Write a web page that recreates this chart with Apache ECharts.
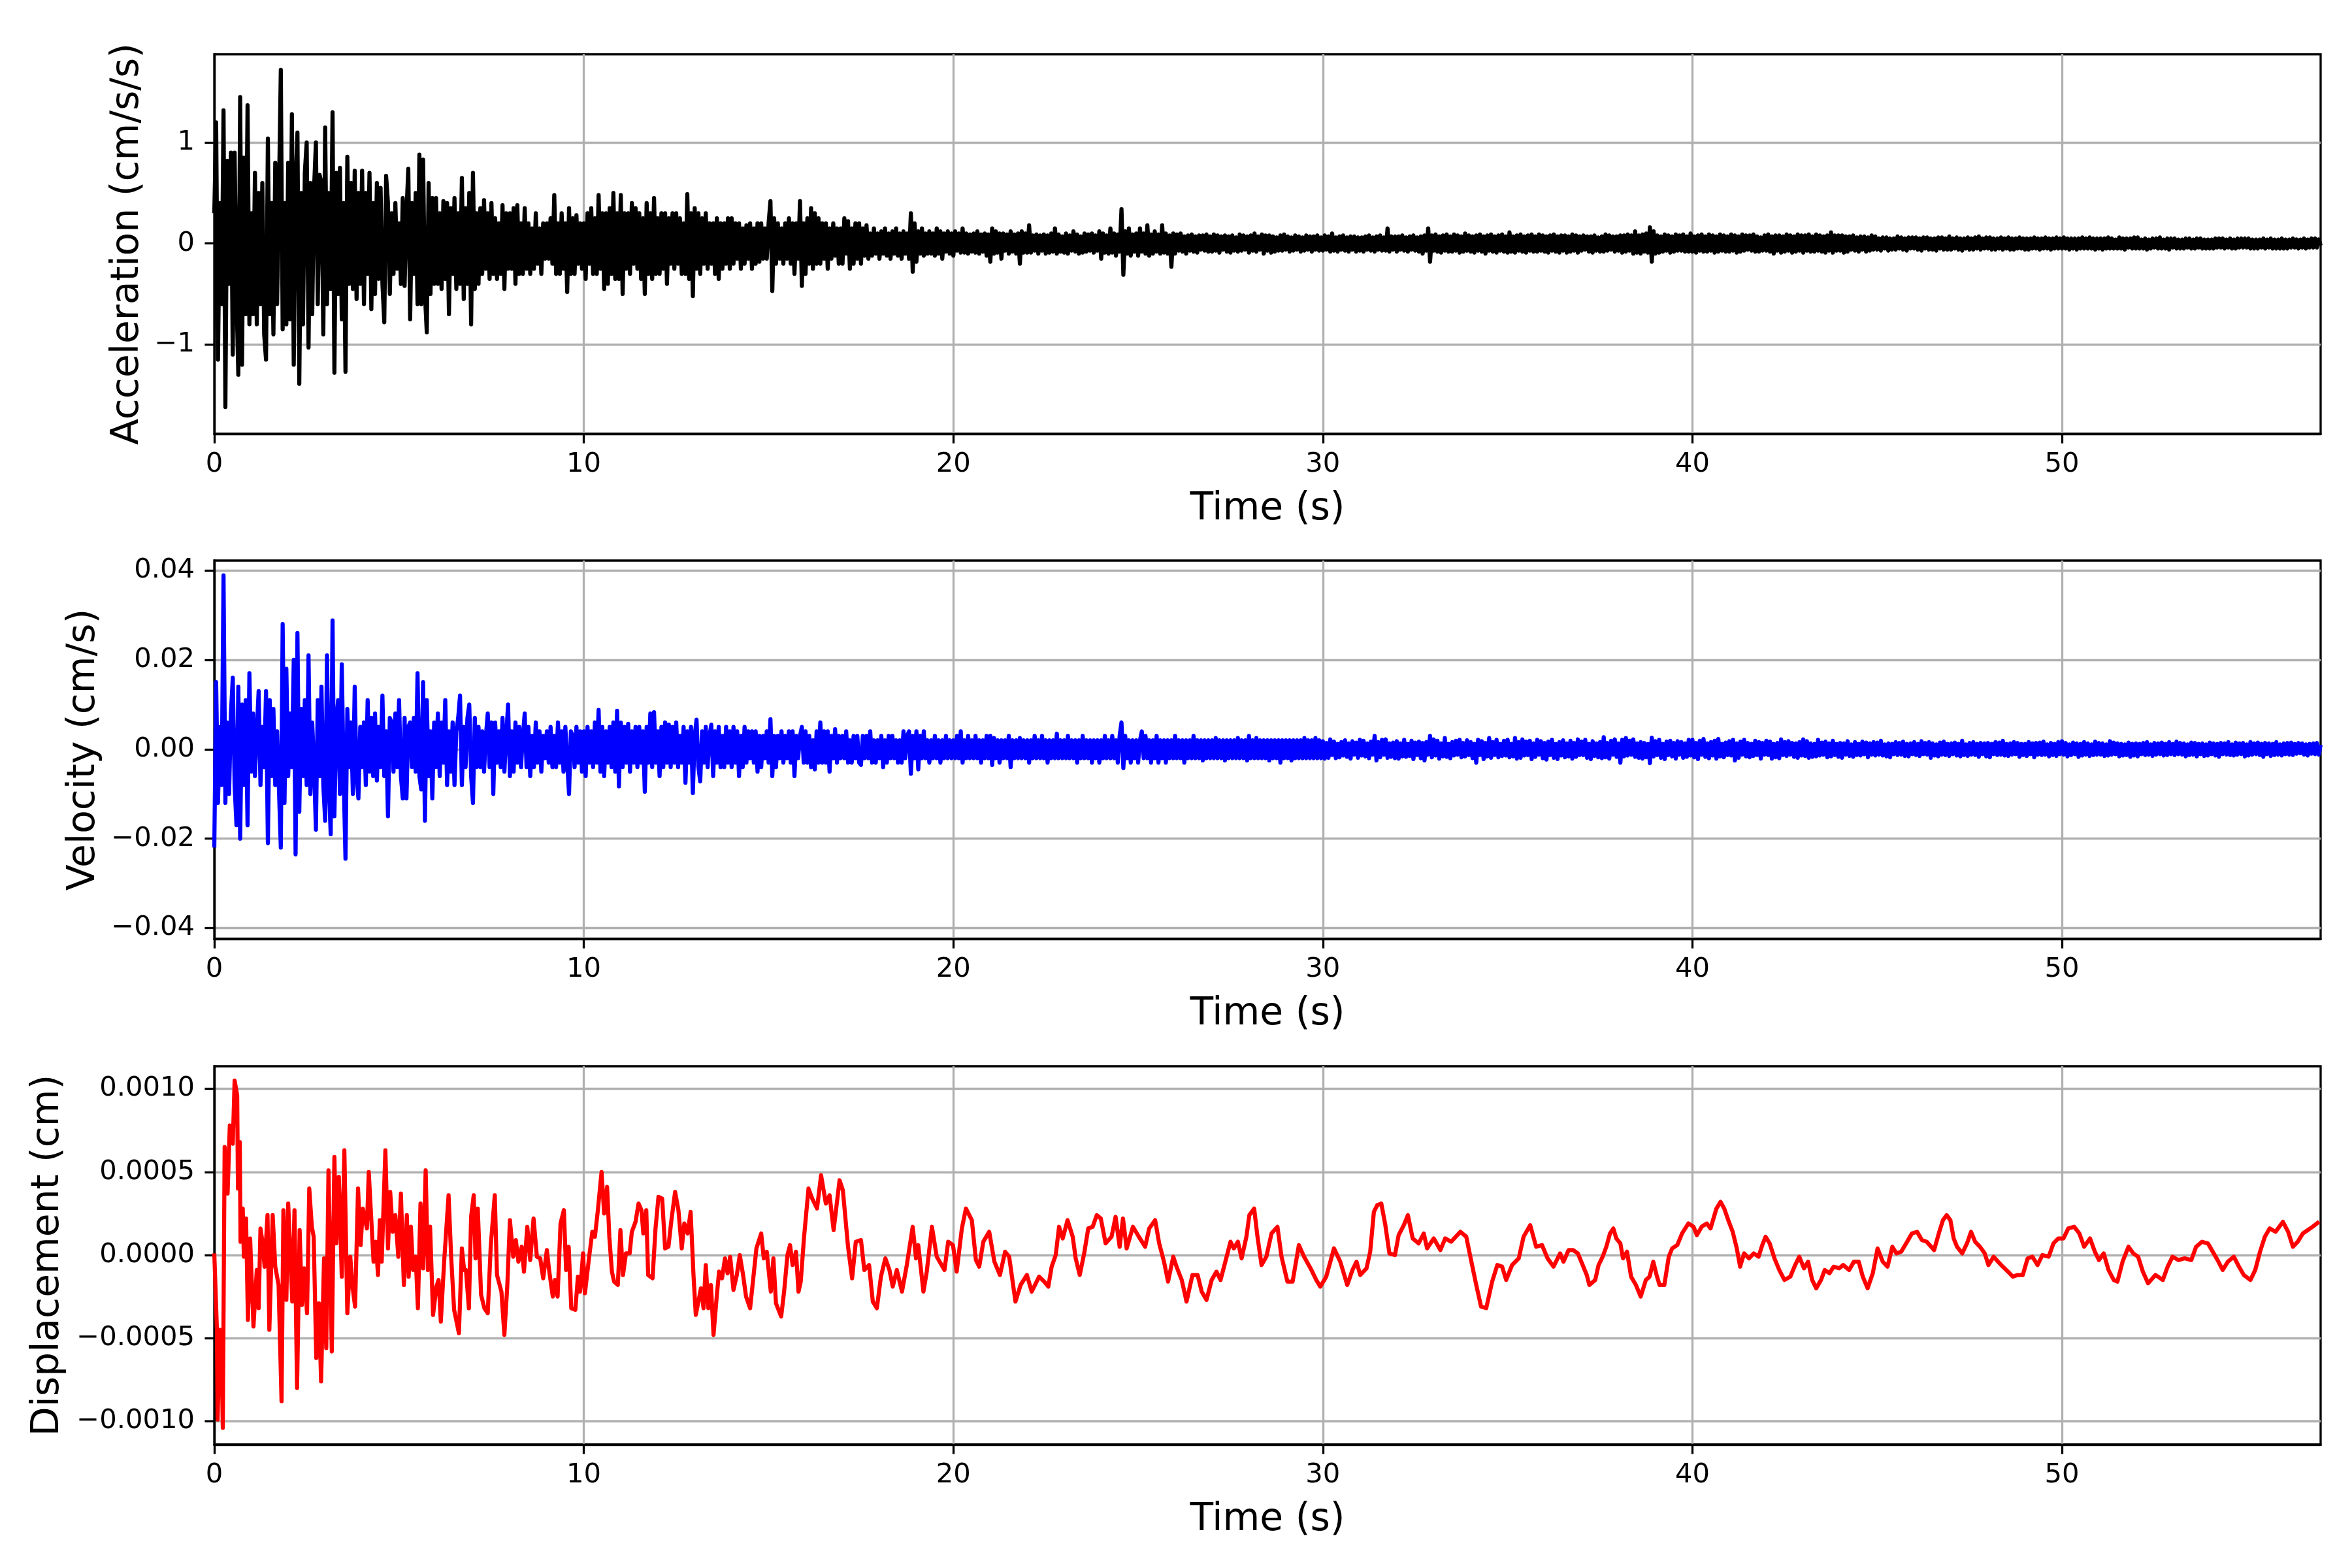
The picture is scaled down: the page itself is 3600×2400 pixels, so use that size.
<!DOCTYPE html>
<html><head><meta charset="utf-8">
<script src="https://cdn.jsdelivr.net/npm/echarts@6/dist/echarts.min.js"></script>
<style>html,body{margin:0;padding:0;background:#fff}#c{width:3600px;height:2400px}</style>
</head><body><div id="c"></div>
<script>
// sampling step of the acceleration / velocity records (s)
const timeStep = 0.05;
const timeTicks = [0, 10, 20, 30, 40, 50];
const accTicks = [-1, 0, 1];
const velTicks = [-0.04, -0.02, 0, 0.02, 0.04];
const dispTicks = [-0.001, -0.0005, 0, 0.0005, 0.001];

// Acceleration (cm/s/s), one row per second (20 samples)
const acceleration = [
.3,1.2,-1.15,.4,-.6,1.32,-1.62,.82,-.4,.9,-1.1,.9,-.5,-1.3,1.45,-1.2,.85,-.7,1.37,-.8,
.3,-.7,.7,-.8,.5,-.6,.6,-.9,-1.15,1.04,-.7,.4,-.9,.8,-.6,.5,1.72,-.85,.4,-.8,
.8,-.75,1.28,-1.2,.6,1.1,-1.39,.5,-.8,.7,1.0,-1.03,.6,-.7,.55,1.0,-.6,.68,.6,-.9,
1.15,-.6,.5,-.45,1.3,-1.28,.7,-.5,.75,-.75,.4,-1.27,.86,-.4,.6,-.45,.72,-.55,.5,-.4,
.72,-.6,.5,-.3,.7,-.65,.4,-.5,.6,-.35,.55,-.4,-.78,.67,.4,-.5,.3,-.3,.4,-.25,
.2,-.4,.45,-.42,.3,.74,-.75,.4,-.3,.5,-.6,.88,-.6,.83,-.5,-.88,.6,-.5,.45,-.4,
.45,-.4,.3,-.45,.42,-.35,.4,-.7,.35,-.3,.45,-.45,.3,-.4,.65,-.55,.35,-.4,.5,-.8,
.7,-.45,.3,-.4,.35,-.3,.43,-.25,.3,-.35,.4,-.3,.25,-.35,.2,-.3,.38,-.45,.3,-.25,
.3,-.25,.35,-.4,.38,-.3,.2,-.3,.35,-.25,.2,-.3,.15,-.25,.3,-.2,.15,-.3,.2,-.15,
.2,-.15,.25,-.2,.48,-.3,.2,-.3,.3,-.25,.2,-.48,.35,-.3,.25,-.3,.28,-.2,.2,-.25,
.2,-.35,.3,-.2,.35,-.3,.25,-.3,.48,-.25,.3,-.45,.3,-.4,.35,-.3,.5,-.35,.3,-.35,
.48,-.5,.3,-.25,.3,-.3,.4,-.2,.35,-.25,.3,-.35,.25,-.5,.4,-.3,.3,-.35,.45,-.3,
.25,-.3,.3,-.25,.3,-.4,.25,-.2,.3,-.25,.3,-.2,.25,-.3,.2,-.3,.49,-.35,.3,-.52,
.35,-.25,.3,-.3,.25,-.2,.3,-.25,.2,-.2,.2,-.3,.25,-.35,.2,-.25,.2,-.2,.25,-.25,
.25,-.2,.2,-.15,.2,-.25,.15,-.2,.18,-.15,.2,-.25,.15,-.2,.2,-.18,.2,-.15,.15,-.15,
.2,.42,-.47,.25,-.2,.2,-.15,.15,-.2,.2,-.15,.25,-.2,.2,-.3,.2,-.15,.42,-.42,.2,
-.3,.25,-.2,.35,-.25,.3,-.2,.25,-.2,.2,-.15,.2,-.25,.15,-.15,.2,-.12,.15,-.2,.15,
-.2,.25,-.1,.22,-.25,.15,-.2,.2,-.15,.2,-.2,.15,-.12,.18,-.15,.1,-.12,.15,-.1,.1,
-.15,.12,-.1,.15,-.12,.1,-.15,.12,-.1,.15,-.12,.1,-.15,.12,-.1,.1,-.15,.3,-.28,.2,
-.18,.12,-.1,.15,-.12,.1,-.1,.12,-.1,.1,-.12,.15,-.1,.12,-.15,.1,-.08,.12,-.1,.1,
-.12,.12,-.07,.1,-.09,.15,-.09,.1,-.1,.09,-.08,.1,-.09,.12,-.1,.09,-.08,.1,-.12,.09,
-.18,.15,-.1,.12,-.09,.1,-.15,.1,-.07,.09,-.1,.12,-.08,.09,-.1,.1,-.2,.12,-.09,.1,
-.09,.18,-.09,.08,-.07,.09,-.1,.08,-.07,.09,-.1,.08,-.09,.1,-.08,.15,-.1,.09,-.08,.07,
-.09,.1,-.1,.08,-.07,.12,-.08,.09,-.1,.07,-.09,.1,-.08,.09,-.07,.1,-.09,.08,-.07,.12,
-.15,.1,-.09,.08,-.1,.15,-.09,.1,-.12,.09,-.08,.34,-.31,.12,-.1,.15,-.12,.09,-.08,.1,
-.12,.15,-.08,.1,-.1,.18,-.12,.09,-.1,.12,-.08,.09,-.1,.18,-.09,.1,-.1,.08,-.23,.1,
-.1,.09,-.07,.1,-.08,.07,-.1,.08,-.07,.09,-.08,.07,-.09,.08,-.06,.08,-.07,.09,-.08,.07,
-.08,.09,-.07,.08,-.09,.07,-.06,.08,-.08,.07,-.09,.08,-.07,.06,-.08,.09,-.07,.08,-.06,.07,
-.09,.08,-.07,.1,-.08,.07,-.06,.09,-.1,.08,-.07,.08,-.09,.07,-.08,.06,-.07,.08,-.07,.09,
-.06,.07,-.08,.06,-.07,.08,-.06,.07,-.08,.06,-.07,.08,-.06,.07,-.08,.07,-.06,.08,-.07,.06,
-.07,.08,-.06,.07,-.08,.1,-.07,.06,-.08,.07,-.06,.08,-.07,.06,-.08,.07,-.06,.07,-.08,.06,
-.07,.06,-.08,.07,-.06,.08,-.07,.06,-.08,.07,-.06,.08,-.07,.06,-.07,.15,-.08,.07,-.06,.07,
-.08,.07,-.06,.08,-.07,.06,-.08,.07,-.06,.08,-.07,.06,-.08,.07,-.1,.08,-.07,.15,-.18,.08,
-.07,.09,-.08,.07,-.09,.08,-.07,.09,-.08,.07,-.08,.09,-.07,.08,-.09,.07,-.08,.1,-.07,.08,
-.08,.07,-.09,.08,-.07,.09,-.08,.07,-.1,.08,-.07,.09,-.08,.07,-.09,.08,-.07,.09,-.08,.07,
-.09,.11,-.08,.07,-.09,.08,-.07,.09,-.08,.07,-.09,.08,-.07,.09,-.08,.07,-.08,.09,-.07,.08,
-.08,.07,-.09,.08,-.07,.09,-.08,.07,-.09,.08,-.07,.08,-.09,.07,-.08,.09,-.07,.08,-.09,.07,
-.07,.08,-.06,.07,-.08,.07,-.09,.08,-.07,.06,-.08,.07,-.08,.09,-.07,.08,-.06,.07,-.08,.07,
-.07,.08,-.09,.08,-.08,.09,-.07,.08,-.1,.12,-.09,.08,-.1,.09,-.08,.1,-.09,.16,-.18,.12,
-.1,.08,-.09,.07,-.08,.09,-.07,.08,-.09,.07,-.08,.09,-.07,.08,-.07,.09,-.08,.07,-.08,.1,
-.08,.07,-.09,.08,-.07,.09,-.08,.07,-.08,.09,-.07,.08,-.09,.07,-.08,.09,-.07,.08,-.08,.07,
-.08,.09,-.07,.08,-.09,.07,-.08,.09,-.07,.08,-.06,.08,-.07,.09,-.08,.07,-.08,.06,-.07,.08,
-.07,.09,-.08,.07,-.1,.08,-.07,.08,-.09,.07,-.08,.09,-.07,.08,-.09,.07,-.08,.09,-.07,.08,
-.09,.08,-.07,.09,-.08,.07,-.08,.09,-.07,.08,-.08,.07,-.09,.08,-.07,.11,-.09,.08,-.07,.08,
-.07,.08,-.09,.07,-.08,.07,-.06,.08,-.07,.06,-.08,.07,-.06,.07,-.08,.06,-.07,.08,-.06,.07,
-.06,.05,-.07,.06,-.05,.06,-.07,.05,-.06,.05,-.06,.07,-.05,.06,-.06,.05,-.07,.06,-.05,.06,
-.05,.06,-.06,.05,-.07,.06,-.05,.06,-.06,.05,-.06,.05,-.07,.06,-.05,.06,-.06,.05,-.06,.07,
-.06,.05,-.05,.06,-.06,.05,-.07,.05,-.05,.06,-.06,.05,-.06,.06,-.05,.07,-.06,.05,-.05,.06,
-.05,.06,-.06,.05,-.06,.05,-.05,.06,-.06,.05,-.05,.06,-.06,.05,-.06,.05,-.05,.06,-.05,.05,
-.06,.05,-.06,.05,-.05,.06,-.05,.05,-.06,.05,-.05,.06,-.05,.05,-.06,.05,-.05,.06,-.05,.05,
-.05,.06,-.05,.05,-.06,.05,-.05,.05,-.06,.05,-.05,.06,-.05,.05,-.05,.06,-.05,.05,-.06,.05,
-.05,.05,-.06,.05,-.05,.06,-.05,.05,-.05,.04,-.05,.06,-.05,.05,-.06,.05,-.04,.05,-.05,.06,
-.05,.06,-.05,.04,-.05,.05,-.06,.04,-.05,.05,-.04,.05,-.05,.06,-.05,.04,-.05,.05,-.06,.05,
-.04,.05,-.05,.04,-.05,.04,-.05,.05,-.04,.05,-.05,.04,-.05,.05,-.04,.05,-.05,.04,-.05,.04,
-.05,.04,-.05,.05,-.04,.05,-.04,.05,-.05,.04,-.04,.05,-.05,.04,-.05,.05,-.04,.05,-.04,.05,
-.04,.05,-.05,.04,-.05,.04,-.05,.04,-.04,.05,-.05,.04,-.04,.05,-.05,.04,-.05,.04,-.05,.05,
-.05,.04,-.05,.04,-.04,.05,-.04,.04,-.05,.04,-.04,.05,-.05,.04,-.04,.05,-.04,.05,-.04,.04,
-.02
];

// Velocity (cm/s), one row per second (20 samples)
const velocity = [
-.022,.015,-.012,.005,-.008,.0389,-.012,.006,-.01,.008,.016,-.008,-.017,.014,-.02,.01,-.008,.011,-.017,.017,
-.005,.008,-.006,.004,.013,-.008,.005,-.004,.013,-.021,.011,-.006,.009,-.008,.004,-.009,-.022,.028,-.012,.018,
-.006,.008,-.004,.020,-.0235,.026,-.014,.009,-.006,.011,-.008,.021,-.010,.006,-.004,-.018,.011,-.006,.014,-.008,
-.016,.021,-.008,-.019,.0288,-.015,.006,.011,-.010,.019,-.006,-.0245,.009,-.004,.006,-.010,.014,-.006,-.011,.005,
-.004,.006,-.008,.011,-.005,.007,-.006,.008,-.007,.005,-.004,.012,-.006,.004,-.015,.007,.006,-.005,.008,-.004,
.011,-.006,-.011,.007,-.011,.005,.006,-.004,.007,-.005,.017,-.006,-.009,.015,-.016,.011,-.006,.004,-.011,.006,
-.004,.008,-.006,.006,-.003,.011,-.008,.004,-.005,.006,-.008,.004,.007,.012,-.008,.005,-.004,.007,.010,-.006,
-.012,.007,-.004,.005,-.004,.004,-.005,.003,.008,-.004,.006,-.010,.006,-.003,.004,-.004,.007,-.005,.003,.010,
-.006,.004,-.005,.006,-.003,.005,-.004,.003,.008,-.004,.005,-.006,.003,-.004,.006,-.003,.004,-.005,.003,-.002,
.004,-.003,.005,-.004,.003,-.004,.006,-.003,.004,-.005,.005,-.003,-.010,.004,.003,-.004,.005,-.003,.004,-.005,
.004,-.006,.005,-.003,.004,-.004,.006,-.003,.0088,-.005,.005,-.006,.004,-.003,.005,-.004,.006,-.005,.0086,-.0083,
.006,-.004,.005,-.003,.0057,-.005,.004,-.003,.005,-.004,.005,-.003,.004,-.0095,.005,-.003,.008,-.004,.0083,-.003,
.004,-.006,.005,-.004,.006,-.003,.0055,-.004,.005,-.003,.006,-.004,.003,-.003,.005,-.0075,.004,-.003,.005,-.0098,
.003,.0066,-.004,-.0072,.004,-.003,.005,-.004,.003,.0055,-.006,.004,-.003,.005,-.004,.003,-.004,.005,-.003,.004,
-.004,.005,-.003,.004,-.006,.003,-.004,.005,-.003,.004,-.002,.004,-.003,.004,-.005,.003,-.004,.003,-.002,.004,
-.003,.0067,-.006,.003,-.004,.003,-.002,.004,-.003,.003,-.002,.004,-.003,.004,-.006,.003,-.002,.003,.005,-.003,
.004,-.003,.003,-.004,.002,-.0045,.004,-.003,.006,-.003,.004,-.003,.004,-.005,.003,-.002,.0045,-.003,.003,-.002,
.003,-.002,.004,-.003,.002,-.003,.003,-.002,.003,-.003,-.0035,.003,-.002,.003,-.002,.004,-.003,.002,-.003,.002,
-.002,.003,-.004,.002,-.003,.003,-.002,.003,-.002,.002,-.003,.002,-.003,.004,-.002,.003,.004,-.0055,.003,-.002,
.004,-.0045,.003,-.002,.004,-.002,.002,-.003,.002,-.002,.003,-.002,.002,-.003,.002,-.002,.003,-.002,.002,-.002,
.002,-.002,.003,-.002,.004,-.003,.002,-.002,.003,-.002,.002,-.002,.003,-.002,.002,-.003,.002,-.002,.003,-.002,
.003,-.0035,.0025,-.002,.002,-.003,.002,-.002,.002,-.002,.003,-.004,.002,-.002,.002,-.002,.0025,-.002,.002,-.002,
.002,-.003,.002,-.002,.003,-.002,.002,-.002,.003,-.002,.002,-.003,.002,-.002,.002,-.002,.0035,-.002,.002,-.002,
.002,-.002,.003,-.002,.002,-.002,.002,-.003,.002,-.002,.003,-.002,.002,-.002,.002,-.003,.002,-.002,.002,-.003,
.002,-.002,.003,-.002,.002,-.002,.003,-.002,.002,-.003,.003,.006,-.0042,.003,-.002,.002,-.003,.002,-.002,.002,
-.003,.002,.004,-.002,.003,-.002,.002,-.003,.002,-.002,.003,-.003,.002,-.002,.002,-.003,.002,-.002,.002,-.002,
.003,-.002,.002,-.002,.002,-.003,.002,-.002,.002,-.002,.003,-.002,.002,-.002,.002,-.0025,.002,-.002,.002,-.002,
.002,-.002,.0025,-.002,.002,-.002,.002,-.0025,.002,-.002,.002,-.002,.002,-.002,.0025,-.002,.002,-.002,.002,-.0025,
.003,-.002,.002,-.002,.0025,-.002,.002,-.002,.002,-.002,.002,-.0025,.002,-.002,.002,-.002,.002,-.003,.002,-.002,
.002,-.002,.002,-.0025,.002,-.002,.002,-.002,.002,-.002,.0025,-.002,.002,-.002,.002,-.002,.0025,-.002,.002,-.002,
.0018,-.0021,.0014,-.0019,.0022,-.0013,.0017,-.002,.0012,-.0018,.0016,-.0014,.002,-.0017,.0013,-.0021,.0018,-.0012,.0015,-.0019,
.0021,-.0014,.0019,-.0016,.0013,-.002,.0017,-.0012,.003,-.0025,.0016,-.0018,.0021,-.0012,.0022,-.0019,.0013,-.0017,.0015,-.002,
.0018,-.0021,.0013,-.0016,.0021,-.0017,.0012,-.0015,.0019,-.0022,.0015,-.0013,.0017,-.002,.0014,-.0025,.0016,-.0012,.003,-.0018,
.0022,-.0014,.0019,-.0021,.0013,-.0016,.0025,-.0017,.0012,-.002,.0016,-.0014,.0019,-.0012,.0021,-.0018,.0014,-.0016,.002,-.0013,
.0016,-.002,.0012,-.003,.0021,-.0013,.0018,-.0022,.0014,-.0016,.0025,-.0019,.0016,-.0013,.0021,-.0018,.0012,-.0015,.0019,-.0014,
.0021,-.0018,.0012,-.0016,.0025,-.0021,.0016,-.0019,.0022,-.0014,.0017,-.0013,.0019,-.0022,.0013,-.0017,.0021,-.0012,.0018,-.002,
.0014,-.0023,.0017,-.0013,.0021,-.0019,.0012,-.0022,.0016,-.0014,.002,-.0018,.0013,-.0016,.0019,-.0021,.0014,-.0017,.0022,-.0013,
.0017,-.0013,.0021,-.0019,.0012,-.0022,.0018,-.0015,.0013,-.0018,.0016,-.002,.0027,-.0018,.0014,-.0021,.0019,-.0012,.0022,-.0017,
.0013,-.003,.0021,-.0016,.0025,-.0014,.0019,-.0012,.0022,-.0017,.0013,-.0019,.0016,-.0021,.0014,-.0018,.0012,-.0031,.0026,-.0016,
.0018,-.0013,.0021,-.0019,.0012,-.0022,.0017,-.0013,.0019,-.0016,.0014,-.0021,.0018,-.0012,.0016,-.0019,.0013,-.0017,.0021,-.0014,
.0021,-.0018,.0014,-.0022,.0019,-.0012,.0023,-.0017,.0013,-.002,.0016,-.0014,.0019,-.0021,.0023,-.0016,.0012,-.0018,.0015,-.0013,
.0018,-.0014,.0021,-.0025,.0013,-.0019,.0017,-.0012,.0021,-.0016,.0014,-.0018,.0012,-.0015,.0019,-.0013,.0016,-.0021,.0014,-.0012,
.0019,-.0013,.0017,-.0021,.0012,-.0018,.0014,-.002,.0022,-.0013,.0016,-.0015,.0018,-.0012,.0014,-.0017,.0013,-.0019,.0016,-.0014,
.0022,-.0015,.0018,-.0019,.0013,-.0017,.0012,-.0016,.0021,-.0014,.0015,-.0012,.0017,-.0018,.0013,-.0016,.0019,-.0013,.0012,-.0017,
.0014,-.0019,.0013,-.0012,.0018,-.0015,.0011,-.0017,.0016,-.0013,.0012,-.0014,.0017,-.0011,.0015,-.0018,.0013,-.0012,.0016,-.0014,
.0015,-.0012,.0019,-.0014,.0011,-.0016,.0013,-.0018,.0012,-.0011,.0016,-.0013,.0014,-.0012,.0017,-.0015,.0012,-.0016,.0013,-.0011,
.0016,-.0013,.0012,-.0015,.0018,-.0011,.0014,-.0012,.0016,-.0019,.0013,-.0014,.0011,-.0016,.0015,-.0012,.0017,-.0013,.0012,-.0015,
.0013,-.0011,.0015,-.0014,.0012,-.0016,.0019,-.0013,.0011,-.0015,.0014,-.0012,.0016,-.0013,.0012,-.0017,.0014,-.0011,.0013,-.0016,
.0014,-.0018,.0012,-.0011,.0016,-.0013,.0015,-.0012,.0019,-.0014,.0012,-.0015,.0013,-.0012,.0016,-.0011,.0014,-.0017,.0012,-.0013,
.0012,-.0015,.0016,-.0011,.0013,-.0018,.0014,-.0012,.0015,-.0013,.0017,-.0012,.0011,-.0016,.0014,-.0013,.0012,-.0015,.0016,-.0011,
.0018,-.0012,.0014,-.0016,.0011,-.0013,.0015,-.0011,.0013,-.0017,.0012,-.0014,.0016,-.0012,.0013,-.0015,.0011,-.0013,.0017,-.0012,
.0014,-.0012,.0013,-.0015,.0011,-.0014,.0018,-.0012,.0015,-.0011,.0013,-.0016,.0012,-.0014,.0011,-.0013,.0015,-.0017,.0012,-.0014,
.0013,-.0016,.0012,-.0011,.0014,-.0013,.0016,-.0012,.0011,-.0015,.0014,-.0012,.0013,-.0011,.0015,-.0014,.0012,-.0013,.0016,-.0011,
.0012,-.0013,.0017,-.0011,.0014,-.0012,.0013,-.0016,.0011,-.0013,.0015,-.0012,.0014,-.0016,.0012,-.0011,.0013,-.0015,.0011,-.0014,
.0015,-.0011,.0013,-.0014,.0012,-.0017,.0014,-.0011,.0013,-.0012,.0016,-.0013,.0011,-.0014,.0015,-.0012,.0013,-.0011,.0014,-.0016,
.0011,-.0014,.0016,-.0012,.0013,-.0011,.0015,-.0013,.0012,-.0017,.0014,-.0011,.0013,-.0015,.0012,-.0013,.0016,-.0012,.0011,-.0014,
.0013,-.0011,.0014,-.0012,.0015,-.0013,.0012,-.001,.0014,-.0009,.0013,-.0012,.0011,-.0014,.0012,-.001,.0013,-.0011,.0014,-.0012,
.001
];

// Displacement (cm): [time (s), value]
const displacement = [
[0,.1e-4],[.07,-4.4e-4],[.09,-9.9e-4],[.15,-4.5e-4],[.19,-4.6e-4],[.23,-10.4e-4],[.28,6.5e-4],[.36,3.7e-4],[.42,7.8e-4],[.5,6.7e-4],
[.55,10.5e-4],[.62,9.6e-4],[.64,4.0e-4],[.69,6.8e-4],[.71,.8e-4],[.77,2.8e-4],[.8,-.1e-4],[.86,2.2e-4],[.91,-3.9e-4],[.97,1.0e-4],
[1.06,-4.3e-4],[1.15,-.9e-4],[1.2,-3.2e-4],[1.25,1.6e-4],[1.31,.7e-4],[1.36,-.7e-4],[1.44,2.4e-4],[1.49,-4.5e-4],[1.58,2.4e-4],[1.65,-.7e-4],
[1.74,-1.8e-4],[1.82,-8.8e-4],[1.87,2.7e-4],[1.95,-2.7e-4],[2.0,3.1e-4],[2.11,-2.8e-4],[2.17,2.7e-4],[2.24,-8.0e-4],[2.31,1.5e-4],[2.37,-3.0e-4],
[2.43,-.8e-4],[2.51,-3.5e-4],[2.57,4.0e-4],[2.64,1.7e-4],[2.69,1.1e-4],[2.76,-6.2e-4],[2.83,-2.9e-4],[2.89,-7.6e-4],[2.97,-.2e-4],[3.03,-5.6e-4],
[3.09,5.1e-4],[3.18,-5.8e-4],[3.25,5.9e-4],[3.3,.7e-4],[3.37,4.7e-4],[3.45,-1.3e-4],[3.52,6.3e-4],[3.6,-3.5e-4],[3.68,-.1e-4],[3.74,-1.9e-4],
[3.81,-3.1e-4],[3.89,4.0e-4],[3.96,.6e-4],[4.02,2.8e-4],[4.13,1.6e-4],[4.18,5.0e-4],[4.31,-.4e-4],[4.37,.8e-4],[4.43,-1.2e-4],[4.48,2.1e-4],
[4.53,-.4e-4],[4.63,6.3e-4],[4.7,.4e-4],[4.76,3.8e-4],[4.83,1.4e-4],[4.9,2.4e-4],[4.98,-.1e-4],[5.05,3.7e-4],[5.13,-1.8e-4],[5.21,2.4e-4],
[5.26,-1.3e-4],[5.32,1.7e-4],[5.38,-.9e-4],[5.45,-.1e-4],[5.51,-3.2e-4],[5.58,3.1e-4],[5.65,-.8e-4],[5.72,5.1e-4],[5.78,-.9e-4],[5.84,1.7e-4],
[5.92,-3.6e-4],[6.01,-1.9e-4],[6.07,-1.5e-4],[6.13,-4.0e-4],[6.22,-.4e-4],[6.34,3.6e-4],[6.41,-.1e-4],[6.49,-3.3e-4],[6.62,-4.7e-4],[6.7,.4e-4],
[6.76,-.9e-4],[6.81,-.9e-4],[6.89,-3.2e-4],[6.95,2.3e-4],[7.02,3.6e-4],[7.07,-.2e-4],[7.13,2.8e-4],[7.22,-2.4e-4],[7.31,-3.2e-4],[7.4,-3.5e-4],
[7.48,.5e-4],[7.59,3.6e-4],[7.65,-1.2e-4],[7.77,-2.2e-4],[7.85,-4.8e-4],[7.93,-1.8e-4],[8.0,2.1e-4],[8.09,-.1e-4],[8.16,.9e-4],[8.23,-.4e-4],
[8.32,.5e-4],[8.38,-1.0e-4],[8.47,1.7e-4],[8.55,-.3e-4],[8.64,2.2e-4],[8.73,-.1e-4],[8.82,-.2e-4],[8.9,-1.4e-4],[9.0,.3e-4],[9.06,-.9e-4],
[9.16,-2.5e-4],[9.22,-1.5e-4],[9.29,-2.5e-4],[9.37,1.9e-4],[9.46,2.7e-4],[9.52,-.9e-4],[9.59,.5e-4],[9.66,-3.2e-4],[9.77,-3.3e-4],[9.84,-1.3e-4],
[9.9,-2.2e-4],[9.98,.1e-4],[10.03,-2.3e-4],[10.15,0],[10.23,1.4e-4],[10.3,1.1e-4],[10.38,2.7e-4],[10.48,5.0e-4],[10.55,2.5e-4],[10.63,4.1e-4],
[10.69,1.1e-4],[10.76,-1.0e-4],[10.82,-1.6e-4],[10.92,-1.8e-4],[10.99,1.5e-4],[11.06,-1.2e-4],[11.14,.1e-4],[11.24,.1e-4],[11.3,1.4e-4],[11.4,2.0e-4],
[11.48,3.1e-4],[11.56,2.7e-4],[11.61,1.3e-4],[11.69,2.7e-4],[11.74,-1.2e-4],[11.86,-1.4e-4],[11.94,1.6e-4],[12.02,3.5e-4],[12.12,3.4e-4],[12.2,.4e-4],
[12.29,.5e-4],[12.37,2.1e-4],[12.47,3.8e-4],[12.56,2.7e-4],[12.65,.4e-4],[12.72,1.9e-4],[12.81,1.3e-4],[12.89,2.6e-4],[12.97,-1.3e-4],[13.03,-3.6e-4],
[13.17,-2.0e-4],[13.24,-3.2e-4],[13.3,-.6e-4],[13.37,-3.2e-4],[13.44,-1.8e-4],[13.51,-4.8e-4],[13.6,-2.4e-4],[13.66,-1.0e-4],[13.74,-1.4e-4],[13.82,-.2e-4],
[13.89,-1.1e-4],[13.96,-.1e-4],[14.05,-2.1e-4],[14.14,-1.2e-4],[14.22,0],[14.31,-1.2e-4],[14.39,-2.5e-4],[14.5,-3.2e-4],[14.59,-1.3e-4],[14.67,.4e-4],
[14.8,1.3e-4],[14.87,-.2e-4],[14.95,.2e-4],[15.06,-2.2e-4],[15.13,-.2e-4],[15.2,-2.9e-4],[15.34,-3.7e-4],[15.42,-2.2e-4],[15.51,0],[15.58,.6e-4],
[15.65,-.6e-4],[15.74,.2e-4],[15.81,-2.2e-4],[15.87,-1.6e-4],[15.96,1.1e-4],[16.08,4.0e-4],[16.18,3.4e-4],[16.31,2.8e-4],[16.42,4.8e-4],[16.55,3.1e-4],
[16.65,3.6e-4],[16.76,1.5e-4],[16.92,4.5e-4],[17.01,3.9e-4],[17.15,.5e-4],[17.26,-1.4e-4],[17.36,.8e-4],[17.5,.9e-4],[17.59,-.9e-4],[17.72,-.6e-4],
[17.82,-2.8e-4],[17.93,-3.2e-4],[18.04,-1.3e-4],[18.16,-.2e-4],[18.27,-.9e-4],[18.36,-1.9e-4],[18.47,-.9e-4],[18.61,-2.2e-4],[18.74,-.6e-4],[18.9,1.7e-4],
[18.99,-.2e-4],[19.05,.6e-4],[19.19,-2.2e-4],[19.28,-1.0e-4],[19.42,1.7e-4],[19.55,-.1e-4],[19.76,-.9e-4],[19.86,.8e-4],[19.99,.6e-4],[20.09,-1.0e-4],
[20.23,1.6e-4],[20.34,2.8e-4],[20.5,2.1e-4],[20.61,-.3e-4],[20.7,-.7e-4],[20.81,.8e-4],[20.97,1.4e-4],[21.11,-.4e-4],[21.26,-1.2e-4],[21.4,.2e-4],
[21.51,-.1e-4],[21.68,-2.8e-4],[21.82,-1.8e-4],[21.99,-1.2e-4],[22.12,-2.2e-4],[22.32,-1.3e-4],[22.46,-1.6e-4],[22.57,-1.9e-4],[22.66,-.7e-4],[22.77,0],
[22.86,1.7e-4],[22.96,1.0e-4],[23.09,2.1e-4],[23.23,1.1e-4],[23.31,-.2e-4],[23.42,-1.2e-4],[23.54,.1e-4],[23.65,1.6e-4],[23.77,1.7e-4],[23.88,2.4e-4],
[23.99,2.2e-4],[24.12,.7e-4],[24.28,1.1e-4],[24.39,2.3e-4],[24.5,.5e-4],[24.59,2.2e-4],[24.69,.4e-4],[24.86,1.7e-4],[25.02,1.1e-4],[25.19,.5e-4],
[25.3,1.6e-4],[25.46,2.1e-4],[25.57,.7e-4],[25.7,-.4e-4],[25.81,-1.6e-4],[25.95,-.1e-4],[26.04,-.7e-4],[26.18,-1.5e-4],[26.31,-2.8e-4],[26.47,-1.2e-4],
[26.61,-1.2e-4],[26.72,-2.2e-4],[26.85,-2.7e-4],[26.99,-1.5e-4],[27.12,-1.0e-4],[27.23,-1.5e-4],[27.36,-.4e-4],[27.5,.8e-4],[27.59,.4e-4],[27.7,.8e-4],
[27.8,-.2e-4],[27.93,1.1e-4],[28.01,2.4e-4],[28.14,2.8e-4],[28.23,1.1e-4],[28.34,-.6e-4],[28.47,-.1e-4],[28.61,1.3e-4],[28.77,1.7e-4],[28.88,-.1e-4],
[29.04,-1.6e-4],[29.18,-1.6e-4],[29.35,.6e-4],[29.49,-.1e-4],[29.69,-.9e-4],[29.82,-1.5e-4],[29.93,-1.9e-4],[30.09,-1.3e-4],[30.3,.4e-4],[30.47,-.4e-4],
[30.66,-1.8e-4],[30.8,-.9e-4],[30.91,-.4e-4],[31.01,-1.2e-4],[31.18,-.8e-4],[31.28,.2e-4],[31.38,2.6e-4],[31.47,3.0e-4],[31.58,3.1e-4],[31.69,1.8e-4],
[31.8,.1e-4],[31.95,0],[32.05,1.2e-4],[32.19,1.8e-4],[32.3,2.4e-4],[32.43,1.0e-4],[32.59,.7e-4],[32.73,1.3e-4],[32.82,.4e-4],[33.0,1.0e-4],
[33.18,.3e-4],[33.31,1.0e-4],[33.47,.8e-4],[33.72,1.4e-4],[33.88,1.1e-4],[34.0,-.2e-4],[34.15,-1.8e-4],[34.28,-3.1e-4],[34.42,-3.2e-4],[34.58,-1.6e-4],
[34.72,-.6e-4],[34.85,-.7e-4],[34.96,-1.5e-4],[35.12,-.6e-4],[35.3,-.2e-4],[35.43,1.1e-4],[35.61,1.8e-4],[35.77,.5e-4],[35.93,.6e-4],[36.08,-.2e-4],
[36.24,-.7e-4],[36.42,.1e-4],[36.51,-.4e-4],[36.65,.3e-4],[36.77,.3e-4],[36.9,.1e-4],[37.03,-.6e-4],[37.14,-1.2e-4],[37.21,-1.8e-4],[37.37,-1.5e-4],
[37.46,-.6e-4],[37.57,-.1e-4],[37.67,.5e-4],[37.77,1.3e-4],[37.86,1.6e-4],[37.94,1.0e-4],[38.05,.7e-4],[38.12,-.2e-4],[38.23,.2e-4],[38.34,-1.3e-4],
[38.47,-1.8e-4],[38.6,-2.5e-4],[38.74,-1.5e-4],[38.84,-1.3e-4],[38.94,-.4e-4],[39.03,-1.2e-4],[39.11,-1.8e-4],[39.24,-1.8e-4],[39.36,-.1e-4],[39.45,.4e-4],
[39.59,.6e-4],[39.72,1.3e-4],[39.89,1.9e-4],[40.03,1.7e-4],[40.12,1.2e-4],[40.25,1.7e-4],[40.39,1.9e-4],[40.49,1.6e-4],[40.65,2.8e-4],[40.76,3.2e-4],
[40.86,2.8e-4],[40.97,2.1e-4],[41.09,1.4e-4],[41.2,.4e-4],[41.29,-.7e-4],[41.4,.1e-4],[41.53,-.2e-4],[41.66,.1e-4],[41.79,-.1e-4],[41.89,.6e-4],
[41.98,1.1e-4],[42.09,.7e-4],[42.22,-.2e-4],[42.35,-.9e-4],[42.49,-1.5e-4],[42.65,-1.3e-4],[42.78,-.6e-4],[42.89,-.1e-4],[43.02,-.8e-4],[43.13,-.4e-4],
[43.24,-1.5e-4],[43.35,-2.0e-4],[43.48,-1.5e-4],[43.58,-.9e-4],[43.71,-1.1e-4],[43.82,-.7e-4],[43.97,-.8e-4],[44.08,-.6e-4],[44.24,-.9e-4],[44.37,-.4e-4],
[44.5,-.4e-4],[44.61,-1.3e-4],[44.74,-2.0e-4],[44.88,-1.1e-4],[45.01,.4e-4],[45.15,-.4e-4],[45.28,-.7e-4],[45.41,.5e-4],[45.52,.1e-4],[45.65,.2e-4],
[45.81,.8e-4],[45.94,1.3e-4],[46.08,1.4e-4],[46.21,.9e-4],[46.34,.8e-4],[46.54,.3e-4],[46.68,1.4e-4],[46.78,2.1e-4],[46.88,2.4e-4],[46.98,2.1e-4],
[47.07,1.0e-4],[47.16,.5e-4],[47.3,.1e-4],[47.43,.7e-4],[47.54,1.4e-4],[47.65,.8e-4],[47.78,.5e-4],[47.91,.1e-4],[48.01,-.6e-4],[48.15,-.1e-4],
[48.27,-.4e-4],[48.4,-.7e-4],[48.54,-1.0e-4],[48.67,-1.3e-4],[48.8,-1.2e-4],[48.94,-1.2e-4],[49.07,-.2e-4],[49.2,-.1e-4],[49.34,-.6e-4],[49.47,0],
[49.64,-.1e-4],[49.77,.7e-4],[49.9,1.0e-4],[50.04,1.0e-4],[50.17,1.6e-4],[50.33,1.7e-4],[50.47,1.3e-4],[50.6,.5e-4],[50.76,1.0e-4],[50.89,.2e-4],
[51.0,-.3e-4],[51.13,.1e-4],[51.26,-.9e-4],[51.4,-1.5e-4],[51.5,-1.6e-4],[51.64,-.4e-4],[51.8,.5e-4],[51.93,.1e-4],[52.06,-.1e-4],[52.19,-1.0e-4],
[52.33,-1.7e-4],[52.53,-1.2e-4],[52.73,-1.5e-4],[52.86,-.7e-4],[52.99,-.1e-4],[53.15,-.3e-4],[53.32,-.2e-4],[53.5,-.3e-4],[53.63,.5e-4],[53.79,.8e-4],
[53.95,.7e-4],[54.08,.2e-4],[54.21,-.3e-4],[54.35,-.9e-4],[54.49,-.4e-4],[54.65,-.1e-4],[54.79,-.7e-4],[54.92,-1.2e-4],[55.1,-1.5e-4],[55.23,-.9e-4],
[55.36,.2e-4],[55.49,1.1e-4],[55.62,1.6e-4],[55.78,1.4e-4],[55.98,2.0e-4],[56.12,1.4e-4],[56.25,.5e-4],[56.38,.8e-4],[56.52,1.3e-4],[56.65,1.5e-4],
[56.78,1.7e-4],[56.96,2.0e-4]
];

const F = 'DejaVu Sans';
const TICK_FS = 41.7, NAME_FS = 58.3, LW = 6.25;
const minus = s => s.replace('-', '\u2212');

function withTime(arr) { return arr.map((v, i) => [Math.round(i * timeStep * 1000) / 1000, v]); }

const gridBase = { left: 328, right: 48, show: true, borderColor: '#000', borderWidth: 3.3,
  backgroundColor: 'rgba(0,0,0,0)', containLabel: false, outerBoundsMode: 'none' };

function xAxis(gi) {
  return {
    type: 'value', gridIndex: gi, min: 0, max: 57,
    name: 'Time (s)', nameLocation: 'middle', nameGap: 87,
    nameTextStyle: { fontFamily: F, fontSize: NAME_FS, color: '#000' },
    axisLine: { show: true, onZero: false, lineStyle: { color: '#000', width: 3.3 } },
    axisTick: { show: true, inside: false, length: 14.6, lineStyle: { color: '#000', width: 3.3 }, customValues: timeTicks },
    axisLabel: { show: true, margin: 26, fontFamily: F, fontSize: TICK_FS, color: '#000', customValues: timeTicks,
      formatter: v => String(v) },
    splitLine: { show: true, lineStyle: { color: '#b0b0b0', width: 3.3 } }
  };
}
function yAxis(gi, name, min, max, ticks, dec, gap) {
  return {
    type: 'value', gridIndex: gi, min: min, max: max,
    name: name, nameLocation: 'middle', nameGap: gap, nameRotate: 90,
    nameTextStyle: { fontFamily: F, fontSize: NAME_FS, color: '#000' },
    axisLine: { show: true, onZero: false, lineStyle: { color: '#000', width: 3.3 } },
    axisTick: { show: true, inside: false, length: 14.6, lineStyle: { color: '#000', width: 3.3 }, customValues: ticks },
    axisLabel: { show: true, margin: 30, fontFamily: F, fontSize: TICK_FS, color: '#000', customValues: ticks,
      formatter: v => minus(Number(v).toFixed(dec)) },
    splitLine: { show: true, lineStyle: { color: '#b0b0b0', width: 3.3 } }
  };
}
function lineSeries(idx, data, color) {
  return { type: 'line', xAxisIndex: idx, yAxisIndex: idx, data: data, showSymbol: false, symbol: 'none',
    lineStyle: { color: color, width: LW, join: 'round' }, itemStyle: { color: color },
    animation: false, silent: true, clip: true, z: 3, progressive: 0 };
}

const chart = echarts.init(document.getElementById('c'), null, { renderer: 'canvas', width: 3600, height: 2400 });
chart.setOption({
  backgroundColor: '#fff',
  animation: false,
  grid: [
    Object.assign({ top: 83, height: 581 }, gridBase),
    Object.assign({ top: 858, height: 579 }, gridBase),
    Object.assign({ top: 1632, height: 579 }, gridBase)
  ],
  xAxis: [xAxis(0), xAxis(1), xAxis(2)],
  yAxis: [
    yAxis(0, 'Acceleration (cm/s/s)', -1.885, 1.875, accTicks, 0, 103),
    yAxis(1, 'Velocity (cm/s)', -0.0424, 0.0422, velTicks, 2, 170),
    yAxis(2, 'Displacement (cm)', -0.00114, 0.001136, dispTicks, 4, 225)
  ],
  series: [
    lineSeries(0, withTime(acceleration), '#000000'),
    lineSeries(1, withTime(velocity), '#0000ff'),
    lineSeries(2, displacement, '#ff0000')
  ]
});
</script>
</body></html>
